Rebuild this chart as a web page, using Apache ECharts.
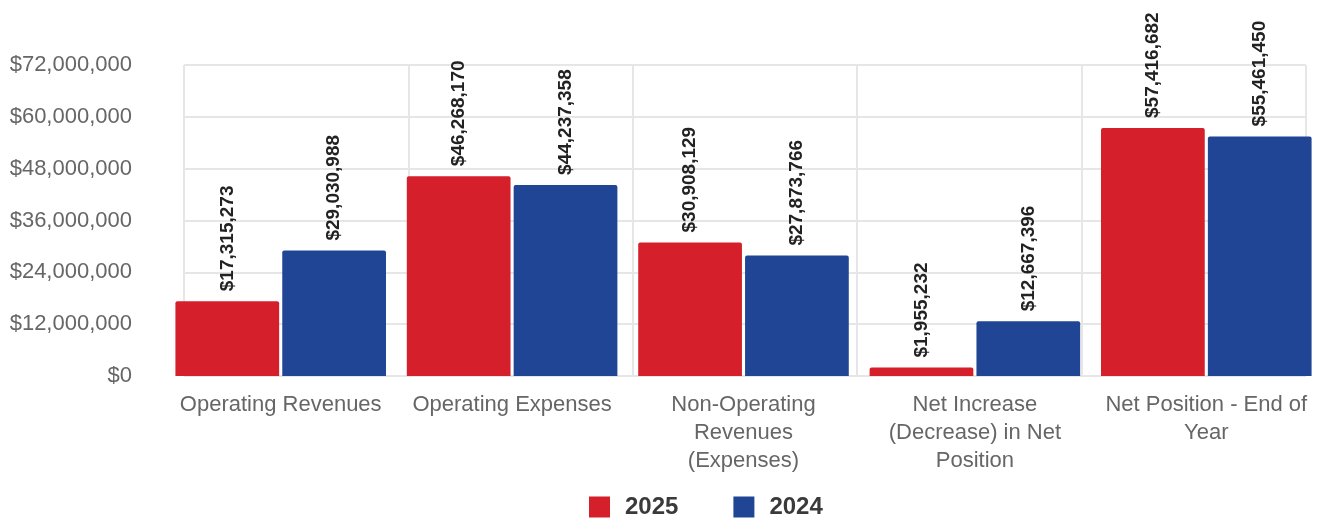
<!DOCTYPE html>
<html><head><meta charset="utf-8">
<script src="https://cdn.jsdelivr.net/npm/echarts@6/dist/echarts.min.js"></script>
<style>html,body{margin:0;padding:0;background:#fff}#c{width:1329px;height:519px}</style>
</head><body><div id="c"></div>
<script>
const categories = ["Operating Revenues","Operating Expenses","Non-Operating\nRevenues\n(Expenses)","Net Increase\n(Decrease) in Net\nPosition","Net Position - End of\nYear"];
const values2025 = [17315273, 46268170, 30908129, 1955232, 57416682];
const values2024 = [29030988, 44237358, 27873766, 12667396, 55461450];
const seriesNames = ["2025","2024"];
const yMax = 72000000, yStep = 12000000;
const fmt = v => '$' + Math.round(v).toLocaleString('en-US');
const FF = 'Liberation Sans, Arial, sans-serif';
const chart = echarts.init(document.getElementById('c'));
const lbl = {show:true, position:'top', rotate:90, align:'left', verticalAlign:'middle', distance:10,
  formatter: p => fmt(p.value), fontFamily:FF, fontWeight:'bold', fontSize:19, color:'#222'};
chart.setOption({
  animation:false,
  textStyle:{fontFamily:FF},
  grid:[
    {left:165, right:7, top:65, bottom:143},
    {left:184, right:23, top:65, bottom:143}
  ],
  legend:{top:490, left:584, itemWidth:21, itemHeight:21, itemGap:55, icon:'rect',
    textStyle:{fontSize:24, lineHeight:24, fontWeight:'bold', color:'#3a3a3a', fontFamily:FF, padding:[0,0,0,10]}},
  xAxis:[
    {type:'category', data:categories, gridIndex:0,
      axisLine:{show:false}, axisTick:{show:false}, splitLine:{show:false},
      axisLabel:{fontSize:22, color:'#666', lineHeight:28, margin:15, interval:0}},
    {type:'value', gridIndex:1, min:0, max:categories.length, interval:1,
      axisLine:{show:false}, axisTick:{show:false}, axisLabel:{show:false},
      splitLine:{show:true, lineStyle:{color:'#e6e6e6', width:2}}}
  ],
  yAxis:[
    {type:'value', gridIndex:0, min:0, max:yMax, interval:yStep, show:false, splitLine:{show:false}},
    {type:'value', gridIndex:1, min:0, max:yMax, interval:yStep,
      axisLine:{show:false}, axisTick:{show:false},
      splitLine:{lineStyle:{color:'#e6e6e6', width:2}},
      axisLabel:{fontSize:22, color:'#666', margin:52, formatter: v => fmt(v)}}
  ],
  series:[
    {name:seriesNames[0], type:'bar', xAxisIndex:0, yAxisIndex:0, data:values2025,
      itemStyle:{color:'#D51F2A', borderRadius:[2,2,0,0]},
      barGap:'3%', barCategoryGap:'9%', label:lbl},
    {name:seriesNames[1], type:'bar', xAxisIndex:0, yAxisIndex:0, data:values2024,
      itemStyle:{color:'#204595', borderRadius:[2,2,0,0]}, label:lbl}
  ]
});
</script></body></html>
